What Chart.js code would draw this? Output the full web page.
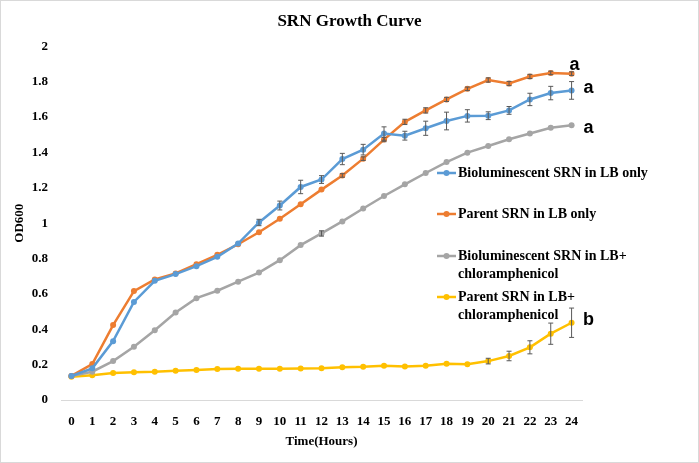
<!DOCTYPE html>
<html>
<head>
<meta charset="utf-8">
<script src="https://cdn.jsdelivr.net/npm/chart.js@4.4.0/dist/chart.umd.min.js"></script>
<style>
  html, body { margin: 0; padding: 0; background: #fff; }
  #wrap { width: 699px; height: 463px; position: relative; }
</style>
</head>
<body>
<div id="wrap"><canvas id="growth"></canvas></div>
<script>
"use strict";

/*----------------------------------------*/
/*  data
/*----------------------------------------*/
var hours = ['0','1','2','3','4','5','6','7','8','9','10','11','12','13','14','15','16','17','18','19','20','21','22','23','24'];

var bioLB    = [0.136,0.179,0.333,0.555,0.674,0.712,0.757,0.810,0.885,1.004,1.100,1.205,1.247,1.363,1.416,1.507,1.495,1.537,1.578,1.607,1.608,1.638,1.700,1.736,1.751];
var parentLB = [0.136,0.203,0.424,0.616,0.682,0.716,0.768,0.821,0.881,0.949,1.025,1.107,1.190,1.270,1.365,1.473,1.573,1.638,1.700,1.760,1.810,1.790,1.830,1.850,1.846];
var bioCm    = [0.136,0.160,0.220,0.301,0.395,0.495,0.576,0.618,0.669,0.721,0.791,0.876,0.942,1.010,1.083,1.154,1.220,1.284,1.346,1.399,1.437,1.475,1.507,1.540,1.554];
var parentCm = [0.132,0.140,0.153,0.157,0.160,0.166,0.170,0.175,0.177,0.177,0.177,0.178,0.180,0.185,0.188,0.194,0.190,0.194,0.205,0.202,0.220,0.249,0.298,0.375,0.437];

var bioLBErr    = [0.004,0.008,0.008,0.008,0.006,0.006,0.008,0.008,0.008,0.018,0.025,0.038,0.022,0.032,0.030,0.038,0.025,0.040,0.050,0.035,0.022,0.022,0.035,0.038,0.050];
var parentLBErr = [0.004,0.006,0.006,0.006,0.006,0.006,0.006,0.006,0.008,0.008,0.008,0.008,0.008,0.010,0.010,0.012,0.015,0.015,0.012,0.010,0.012,0.012,0.012,0.010,0.010];
var bioCmErr    = [0.004,0.004,0.004,0.004,0.004,0.004,0.004,0.006,0.006,0.006,0.008,0.008,0.015,0.008,0.008,0.008,0.008,0.008,0.008,0.006,0.006,0.006,0.006,0.006,0.006];
var parentCmErr = [0.004,0.004,0.004,0.004,0.004,0.004,0.004,0.004,0.004,0.004,0.004,0.004,0.004,0.004,0.004,0.004,0.004,0.004,0.004,0.004,0.016,0.027,0.037,0.060,0.083];

var seriesNames = [
  ['Bioluminescent SRN in LB only'],
  ['Parent SRN in LB only'],
  ['Bioluminescent SRN in LB+', 'chloramphenicol'],
  ['Parent SRN in LB+', 'chloramphenicol']
];
var groupLetters = ['a', 'a', 'a', 'b'];

var yTicks = [0, 0.2, 0.4, 0.6, 0.8, 1, 1.2, 1.4, 1.6, 1.8, 2];

var serif = "'Liberation Serif', 'Times New Roman', serif";

/*----------------------------------------*/
/*  plugins
/*----------------------------------------*/
var frame = {
  id: 'frame',
  beforeDraw: function (chart) {
    var c = chart.ctx;
    c.save();
    c.fillStyle = '#fff';
    c.fillRect(0, 0, chart.width, chart.height);
    c.strokeStyle = '#d9d9d9';
    c.lineWidth = 1;
    c.strokeRect(0.5, 0.5, chart.width - 1, chart.height - 1);
    c.restore();
  }
};

var errorBars = {
  id: 'errorBars',
  afterDatasetsDraw: function (chart) {
    var c = chart.ctx, x = chart.scales.x, y = chart.scales.y;
    c.save();
    c.strokeStyle = '#595959';
    c.lineWidth = 1;
    chart.data.datasets.forEach(function (ds) {
      ds.errors.forEach(function (e, i) {
        var px = x.getPixelForValue(i);
        var top = y.getPixelForValue(ds.data[i] + e);
        var bot = y.getPixelForValue(ds.data[i] - e);
        if (bot - top < 3) return;
        c.beginPath();
        c.moveTo(px, top); c.lineTo(px, bot);
        c.moveTo(px - 2.5, top); c.lineTo(px + 2.5, top);
        c.moveTo(px - 2.5, bot); c.lineTo(px + 2.5, bot);
        c.stroke();
      });
    });
    c.restore();
  }
};

var letters = {
  id: 'letters',
  afterDatasetsDraw: function (chart, args, opts) {
    var c = chart.ctx, x = chart.scales.x, y = chart.scales.y;
    c.save();
    c.font = "bold 18px 'Liberation Sans', Arial, sans-serif";
    c.fillStyle = '#000';
    c.textAlign = 'center';
    c.textBaseline = 'middle';
    chart.data.datasets.forEach(function (ds, d) {
      var last = ds.data.length - 1;
      var off = opts.offsets[d];
      c.fillText(groupLetters[d], x.getPixelForValue(last) + off[0], y.getPixelForValue(ds.data[last]) + off[1]);
    });
    c.restore();
  }
};

var sideLegend = {
  id: 'sideLegend',
  afterDraw: function (chart, args, opts) {
    var c = chart.ctx;
    c.save();
    c.font = 'bold 14px ' + serif;
    c.textBaseline = 'middle';
    chart.data.datasets.forEach(function (ds, d) {
      var y0 = opts.rows[d];
      c.strokeStyle = ds.borderColor;
      c.fillStyle = ds.borderColor;
      c.lineWidth = 2.5;
      c.beginPath();
      c.moveTo(opts.x, y0); c.lineTo(opts.x + 19, y0);
      c.stroke();
      c.beginPath();
      c.arc(opts.x + 9.5, y0, 3, 0, Math.PI * 2);
      c.fill();
      c.fillStyle = '#000';
      seriesNames[d].forEach(function (line, k) {
        c.fillText(line, opts.x + 21, y0 + k * 18.5);
      });
    });
    c.restore();
  }
};

/*----------------------------------------*/
/*  chart
/*----------------------------------------*/
function line(label, data, errors, color) {
  return {
    label: label,
    data: data,
    errors: errors,
    borderColor: color,
    backgroundColor: color,
    borderWidth: 2.5,
    pointRadius: 3,
    pointBorderWidth: 0,
    pointHoverRadius: 3,
    tension: 0,
    fill: false
  };
}

var ctx = document.getElementById('growth');
var growth = new Chart(ctx, {
  type: 'line',
  data: {
    labels: hours,
    datasets: [
      line(seriesNames[0].join(' '), bioLB, bioLBErr, '#5B9BD5'),
      line(seriesNames[1].join(' '), parentLB, parentLBErr, '#ED7D31'),
      line(seriesNames[2].join(' '), bioCm, bioCmErr, '#A5A5A5'),
      line(seriesNames[3].join(' '), parentCm, parentCmErr, '#FFC000')
    ]
  },
  plugins: [frame, errorBars, letters, sideLegend],
  options: {
    responsive: true,
    maintainAspectRatio: false,
    animation: false,
    layout: { padding: 0 },
    plugins: {
      legend: { display: false },
      tooltip: { enabled: false },
      title: {
        display: true,
        text: 'SRN Growth Curve',
        color: '#000',
        font: { family: serif, size: 17, weight: 'bold' },
        padding: { top: 11, bottom: 15 }
      },
      letters: { offsets: [[17, -2], [3, -9], [17, 3], [17, -3]] },
      sideLegend: { x: 437, rows: [173, 214, 256, 297] }
    },
    scales: {
      x: {
        offset: true,
        grid: { display: false, drawTicks: false },
        border: { display: true, color: '#d9d9d9', width: 1 },
        ticks: {
          color: '#000',
          padding: 14,
          maxRotation: 0,
          autoSkip: false,
          font: { family: serif, size: 13, weight: 'bold' }
        },
        title: {
          display: true,
          text: 'Time(Hours)',
          color: '#000',
          font: { family: serif, size: 13, weight: 'bold' },
          padding: { top: 0, bottom: 14 }
        },
        afterFit: function (s) { s.height = 63; }
      },
      y: {
        min: 0,
        max: 2,
        afterBuildTicks: function (s) {
          s.ticks = yTicks.map(function (v) { return { value: v }; });
        },
        grid: { display: false, drawTicks: false },
        border: { display: false },
        ticks: {
          color: '#000',
          padding: 13,
          font: { family: serif, size: 13, weight: 'bold' },
          callback: function (v) { return String(+v.toFixed(1)); }
        },
        title: {
          display: true,
          text: 'OD600',
          color: '#000',
          font: { family: serif, size: 13, weight: 'bold' },
          padding: { top: 12, bottom: 0 }
        },
        afterFit: function (s) { s.width = 61; }
      },
      // empty right-hand axis that keeps room for the legend
      yRight: {
        position: 'right',
        min: 0,
        max: 2,
        grid: { display: false, drawTicks: false },
        border: { display: false },
        ticks: { display: false },
        afterFit: function (s) { s.width = 117; }
      }
    }
  }
});
</script>
</body>
</html>
